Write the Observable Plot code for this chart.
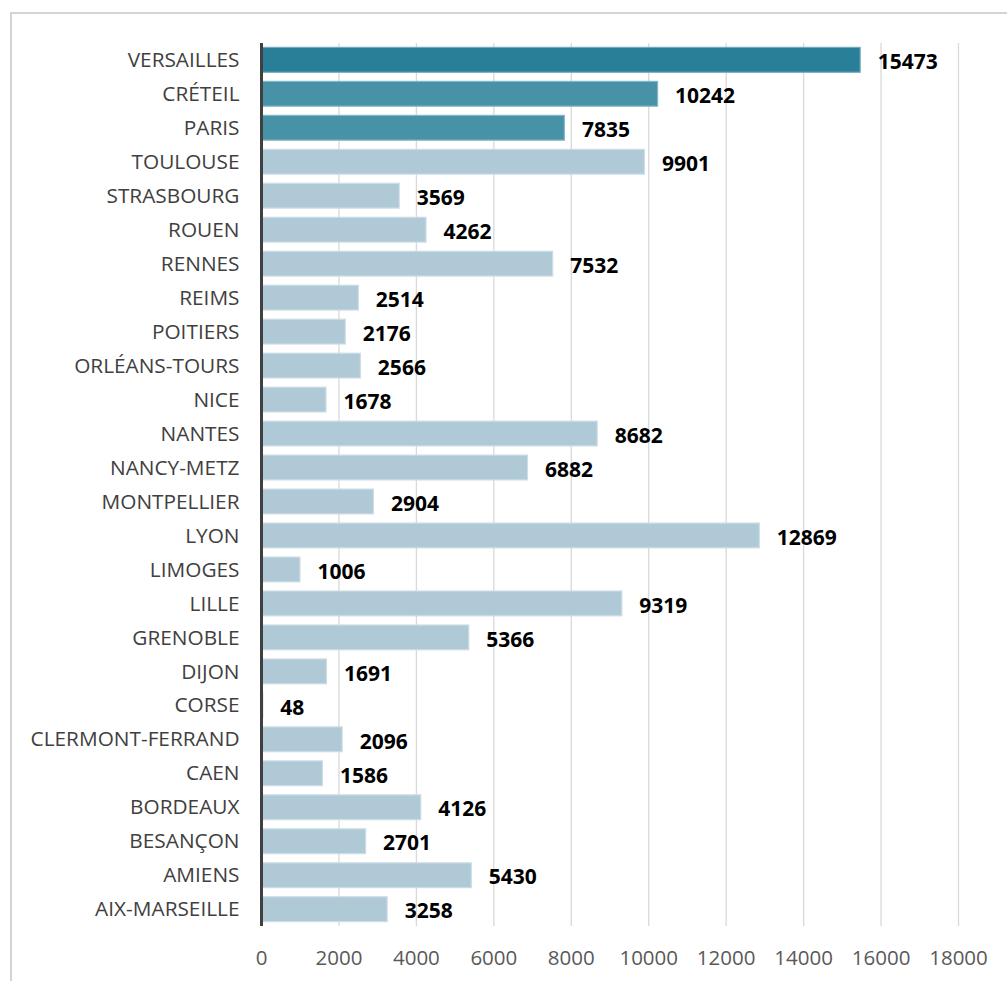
<!DOCTYPE html>
<html>
<head>
<meta charset="utf-8">
<script src="https://cdn.jsdelivr.net/npm/d3@7"></script>
<script src="https://cdn.jsdelivr.net/npm/@observablehq/plot@0.6"></script>
<style>
  html, body { margin: 0; padding: 0; background: #fff; }
  #wrap { position: relative; width: 1007px; height: 981px; overflow: hidden; }
  #frame { position: absolute; left: 10px; top: 12px; width: 1100px; height: 1100px;
           border-left: 2px solid #d4d4d4; border-top: 2px solid #d4d4d4; pointer-events: none; }
  #chart svg { display: block; }
</style>
</head>
<body>
<div id="wrap"><div id="chart"></div><div id="frame"></div></div>
<script>
const academies = ["VERSAILLES","CRÉTEIL","PARIS","TOULOUSE","STRASBOURG","ROUEN","RENNES","REIMS","POITIERS","ORLÉANS-TOURS","NICE","NANTES","NANCY-METZ","MONTPELLIER","LYON","LIMOGES","LILLE","GRENOBLE","DIJON","CORSE","CLERMONT-FERRAND","CAEN","BORDEAUX","BESANÇON","AMIENS","AIX-MARSEILLE"];
const values = [15473,10242,7835,9901,3569,4262,7532,2514,2176,2566,1678,8682,6882,2904,12869,1006,9319,5366,1691,48,2096,1586,4126,2701,5430,3258];
const groups = ["top","mid","mid","other","other","other","other","other","other","other","other","other","other","other","other","other","other","other","other","other","other","other","other","other","other","other"];
const xTicks = [0,2000,4000,6000,8000,10000,12000,14000,16000,18000];

const data = academies.map((a, i) => ({academie: a, value: values[i], group: groups[i]}));
const fills = {top: "#2a7f98", mid: "#4892a7", other: "#b0c9d6"};
const strokes = {top: "#6fa9bb", mid: "#86b8c7", other: "#cddde6"};

const chart = Plot.plot({
  width: 1007,
  height: 981,
  marginLeft: 261,
  marginRight: 49,
  marginTop: 43,
  marginBottom: 55,
  style: {fontFamily: "'Open Sans', sans-serif", background: "transparent"},
  x: {domain: [0, 18000], ticks: xTicks, label: null},
  y: {domain: academies, round: false, paddingInner: 0.27, paddingOuter: 0.13, label: null},
  marks: [
    Plot.ruleX(xTicks.slice(1), {stroke: "#d9d9d9", strokeWidth: 1.3}),
    Plot.barX(data, {y: "academie", x: "value", fill: d => fills[d.group], stroke: d => strokes[d.group], strokeWidth: 1.2}),
    Plot.text(data, {y: "academie", x: "value", text: d => String(d.value), dx: 17, dy: 2, textAnchor: "start",
                     fontWeight: "bold", fontSize: 21, fill: "#000"}),
    Plot.ruleX([0], {stroke: "#404040", strokeWidth: 3}),
    Plot.axisX({ticks: xTicks, tickSize: 0, tickPadding: 24, tickFormat: d => String(d), fontSize: 20.5, color: "#595959", label: null}),
    Plot.axisY({tickSize: 0, tickPadding: 22, fontSize: 20.8, color: "#404040", label: null})
  ]
});
document.getElementById("chart").appendChild(chart);
</script>
</body>
</html>
